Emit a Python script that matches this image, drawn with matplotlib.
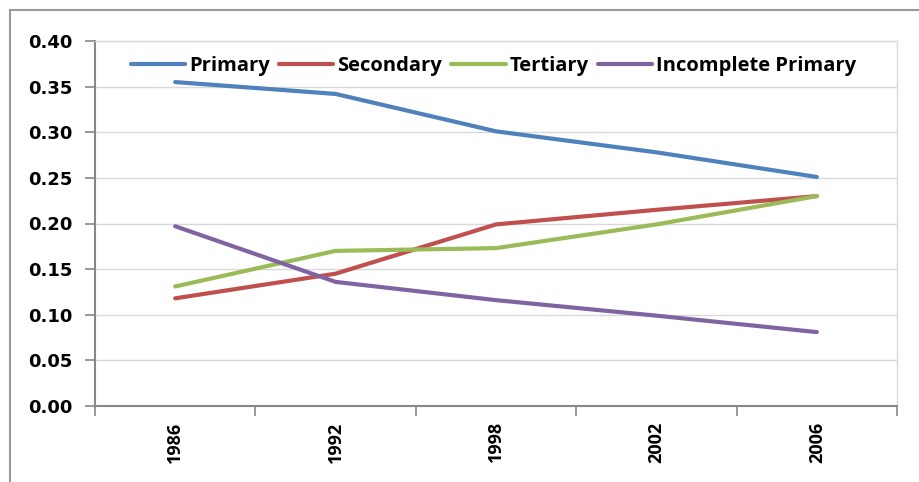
import matplotlib.pyplot as plt
from matplotlib.patches import Rectangle

years = ['1986', '1992', '1998', '2002', '2006']
primary = [0.355, 0.342, 0.301, 0.278, 0.251]
secondary = [0.118, 0.145, 0.199, 0.215, 0.230]
tertiary = [0.131, 0.170, 0.173, 0.199, 0.230]
incomplete = [0.197, 0.136, 0.116, 0.099, 0.081]

series = [('Primary', primary, '#4F81BD'),
          ('Secondary', secondary, '#C0504D'),
          ('Tertiary', tertiary, '#9BBB59'),
          ('Incomplete Primary', incomplete, '#8064A2')]

fig = plt.figure(figsize=(9.19, 4.82), dpi=100)
ax = fig.add_axes([95/919, 76/482, 802/919, 365/482])

# outer chart frame (cut off at right and bottom)
fig.patches.append(Rectangle((10/919, -0.1), 1.2, 472/482 + 0.1,
                             transform=fig.transFigure, fill=False,
                             edgecolor='#9a9a9a', linewidth=1.5))

x = list(range(len(years)))
for name, vals, color in series:
    ax.plot(x, vals, color=color, linewidth=3, label=name, solid_capstyle='round')

ax.set_xlim(-0.5, len(years) - 0.5)
ax.set_ylim(0, 0.40)
ax.set_yticks([i * 0.05 for i in range(9)])
ax.set_yticklabels([f'{i * 0.05:.2f}' for i in range(9)],
                   fontfamily='DejaVu Sans', fontweight='bold', fontsize=13)
ax.set_xticks(x)
ax.set_xticklabels(years, rotation=90, fontfamily='Open Sans',
                   fontweight='bold', fontsize=13)
ax.set_xticks([i - 0.5 for i in range(len(years) + 1)], minor=True)
ax.tick_params(axis='x', which='major', length=0, pad=11)
ax.tick_params(axis='x', which='minor', length=7, width=1.2, color='#888888', direction='out')
ax.tick_params(axis='y', length=7, width=1.2, color='#888888', direction='out', pad=9)

ax.grid(axis='y', color='#d9d9d9', linewidth=1)
ax.set_axisbelow(True)
for side in ['left', 'bottom']:
    ax.spines[side].set_color('#888888')
    ax.spines[side].set_linewidth(1.5)
for side in ['top', 'right']:
    ax.spines[side].set_color('#d9d9d9')
    ax.spines[side].set_linewidth(1)

ax.legend(loc='upper center', bbox_to_anchor=(0.497, 1.008), ncol=4, frameon=False,
          handlelength=2.7, handletextpad=0.2, columnspacing=0.45,
          prop={'family': 'Open Sans', 'weight': 'bold', 'size': 14.5})

fig.savefig('out.png', dpi=100)
